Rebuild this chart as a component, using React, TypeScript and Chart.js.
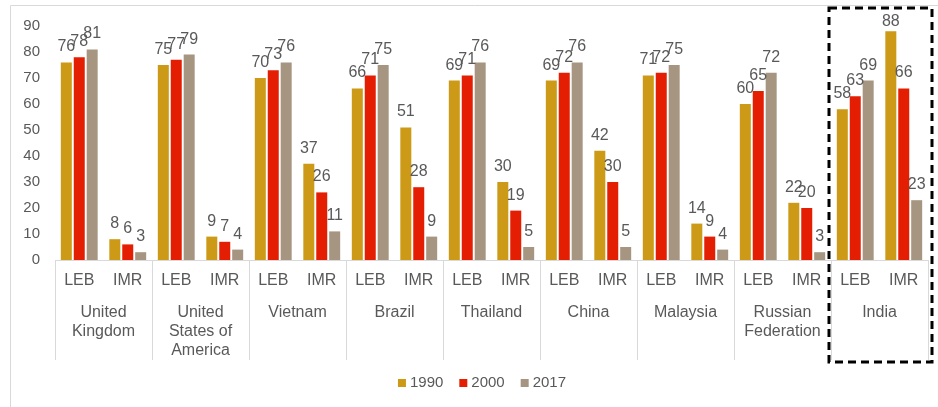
import React, { useEffect, useRef } from "react";
import { Chart, registerables } from "chart.js";

Chart.register(...registerables);

// ---- data ----
const countries: string[][] = [
  ["United", "Kingdom"],
  ["United", "States of", "America"],
  ["Vietnam"],
  ["Brazil"],
  ["Thailand"],
  ["China"],
  ["Malaysia"],
  ["Russian", "Federation"],
  ["India"],
];
const indicators = ["LEB", "IMR"];
const years = ["1990", "2000", "2017"];
const values1990 = [76, 8, 75, 9, 70, 37, 66, 51, 69, 30, 69, 42, 71, 14, 60, 22, 58, 88];
const values2000 = [78, 6, 77, 7, 73, 26, 71, 28, 71, 19, 72, 30, 72, 9, 65, 20, 63, 66];
const values2017 = [81, 3, 79, 4, 76, 11, 75, 9, 76, 5, 76, 5, 75, 4, 72, 3, 69, 23];
const yMin = 0;
const yMax = 90;
const yStep = 10;
const highlightedGroup = 8; // India

const seriesColors = ["#CC9A16", "#E41E02", "#A69580"];
const textColor = "#595959";
const lineColor = "#D9D9D9";
const fontFamily = "'Liberation Sans', Arial, sans-serif";

const decorPlugin = {
  id: "decor",
  beforeDraw(chart: any) {
    const { ctx, width, height } = chart;
    ctx.save();
    ctx.strokeStyle = lineColor;
    ctx.lineWidth = 1;
    ctx.beginPath();
    ctx.moveTo(10.5, height);
    ctx.lineTo(10.5, 5.5);
    ctx.lineTo(width, 5.5);
    ctx.stroke();
    ctx.restore();
  },
  afterDatasetsDraw(chart: any) {
    const { ctx, chartArea } = chart;
    ctx.save();
    ctx.fillStyle = textColor;
    ctx.font = `16px ${fontFamily}`;
    ctx.textAlign = "center";
    ctx.textBaseline = "alphabetic";
    chart.data.datasets.forEach((ds: any, di: number) => {
      const meta = chart.getDatasetMeta(di);
      meta.data.forEach((el: any, i: number) => {
        const y = Math.max(el.y - 11, chartArea.top);
        ctx.fillText(String(ds.data[i]), el.x, y);
      });
    });
    ctx.restore();
  },
  afterDraw(chart: any) {
    const { ctx, chartArea, width } = chart;
    const xs = chart.scales.x;
    const n = chart.data.labels.length;
    const boundary = (i: number) => {
      if (i <= 0) return chartArea.left;
      if (i >= n) return chartArea.right;
      return (xs.getPixelForValue(i - 1) + xs.getPixelForValue(i)) / 2;
    };
    ctx.save();
    // group separators
    ctx.strokeStyle = lineColor;
    ctx.lineWidth = 1;
    for (let g = 0; g <= countries.length; g++) {
      const x = Math.round(boundary(g * indicators.length)) + 0.5;
      ctx.beginPath();
      ctx.moveTo(x, chartArea.bottom);
      ctx.lineTo(x, chartArea.bottom + 100);
      ctx.stroke();
    }
    // country labels
    ctx.fillStyle = textColor;
    ctx.font = `16px ${fontFamily}`;
    ctx.textAlign = "center";
    ctx.textBaseline = "alphabetic";
    countries.forEach((lines, g) => {
      const cx = (boundary(g * indicators.length) + boundary((g + 1) * indicators.length)) / 2;
      lines.forEach((line, li) => {
        ctx.fillText(line, cx, chartArea.bottom + 57 + li * 19);
      });
    });
    // legend
    ctx.font = `15px ${fontFamily}`;
    ctx.textAlign = "left";
    ctx.textBaseline = "middle";
    const box = 8;
    const boxGap = 4;
    const itemGap = 16;
    const datasets = chart.data.datasets;
    const widths = datasets.map((ds: any) => box + boxGap + ctx.measureText(ds.label).width);
    const total = widths.reduce((a: number, b: number) => a + b, 0) + itemGap * (datasets.length - 1);
    let lx = width / 2 + 13 - total / 2;
    const ly = 383;
    datasets.forEach((ds: any, i: number) => {
      ctx.fillStyle = ds.backgroundColor;
      ctx.fillRect(lx, ly - box / 2, box, box);
      ctx.fillStyle = textColor;
      ctx.fillText(ds.label, lx + box + boxGap, ly);
      lx += widths[i] + itemGap;
    });
    // dashed highlight box
    const left = boundary(highlightedGroup * indicators.length) - 2;
    const right = boundary((highlightedGroup + 1) * indicators.length) + 4;
    ctx.strokeStyle = "#000000";
    ctx.lineWidth = 3;
    ctx.setLineDash([8, 5]);
    ctx.strokeRect(left, 8, right - left, chartArea.bottom + 102 - 8);
    ctx.restore();
  },
};

export default function App() {
  const ref = useRef<HTMLCanvasElement | null>(null);
  useEffect(() => {
    if (!ref.current) return;
    const labels = countries.flatMap(() => indicators);
    const chart = new Chart(ref.current, {
      type: "bar",
      data: {
        labels,
        datasets: [values1990, values2000, values2017].map((d, i) => ({
          label: years[i],
          data: d,
          backgroundColor: seriesColors[i],
          borderWidth: 0,
          categoryPercentage: 0.8,
          barPercentage: 0.85,
        })),
      },
      options: {
        responsive: false,
        animation: false,
        devicePixelRatio: 1,
        layout: { padding: { left: 10, right: 10, top: 26, bottom: 0 } },
        plugins: {
          tooltip: { enabled: false },
          legend: { display: false },
        },
        scales: {
          x: {
            grid: { display: false, drawTicks: false },
            border: { display: true, color: lineColor, width: 1 },
            ticks: {
              color: textColor,
              font: { size: 16, family: fontFamily },
              padding: 11,
              autoSkip: false,
              maxRotation: 0,
            },
            afterFit: (s: any) => {
              s.height = 147;
            },
          },
          y: {
            min: yMin,
            max: yMax,
            grid: { display: false, drawTicks: false },
            border: { display: false },
            ticks: {
              stepSize: yStep,
              color: textColor,
              font: { size: 15, family: fontFamily },
              padding: 15,
            },
            afterFit: (s: any) => {
              s.width = 45;
            },
          },
        },
      },
      plugins: [decorPlugin],
    });
    return () => chart.destroy();
  }, []);
  return (
    <div style={{ position: "absolute", left: 0, top: 0, width: 938, height: 407, background: "#fff" }}>
      <canvas ref={ref} width={938} height={407} style={{ width: 938, height: 407, display: "block" }} />
    </div>
  );
}
